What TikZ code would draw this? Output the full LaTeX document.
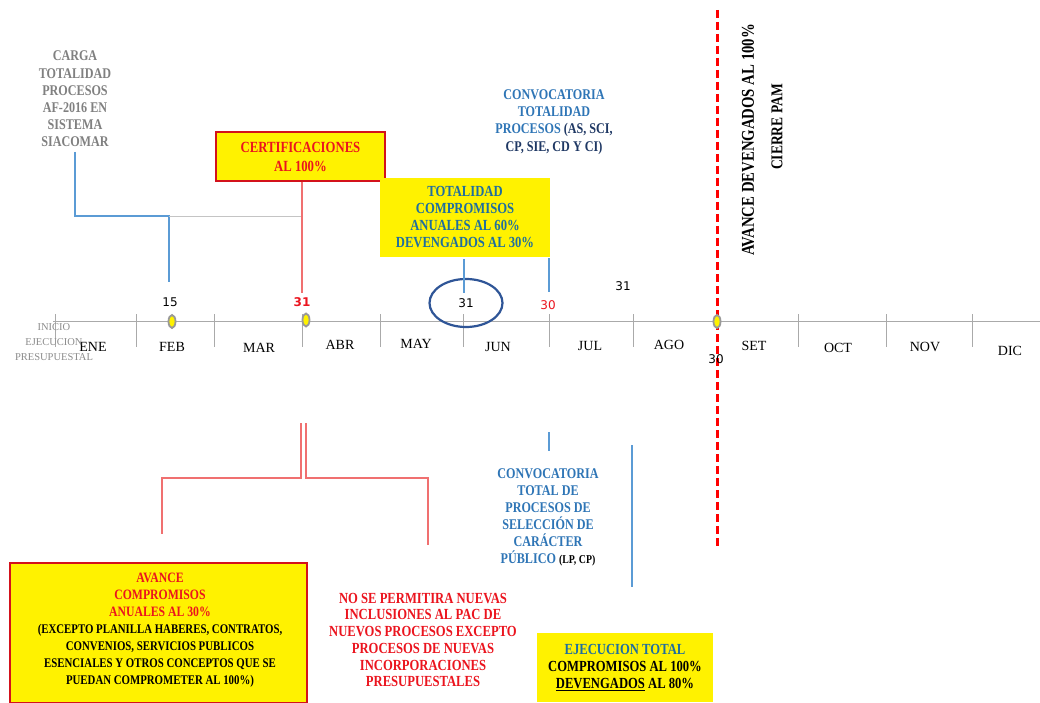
\documentclass[tikz,border=0pt]{standalone}
\usepackage{fontspec}
\setmainfont{Liberation Serif}
\newfontfamily\cond{Liberation Serif}[FakeStretch=0.82]
\newfontfamily\numfont{DejaVu Sans}
\usetikzlibrary{shapes.geometric}
\definecolor{lblue}{RGB}{91,155,213}
\definecolor{tblue}{RGB}{46,117,182}
\definecolor{tealb}{RGB}{30,110,160}
\definecolor{navy}{RGB}{31,56,100}
\definecolor{lred}{RGB}{240,112,112}
\definecolor{rtext}{RGB}{235,20,30}
\definecolor{axisgray}{RGB}{170,170,170}
\definecolor{txtgray}{RGB}{128,128,128}
\definecolor{inigray}{RGB}{140,140,140}
\definecolor{ringblue}{RGB}{47,85,151}
\begin{document}
\begin{tikzpicture}[x=1pt,y=-1pt,
  lbl/.style={font=\cond\bfseries\fontsize{15.4}{17}\selectfont, align=center, inner sep=0pt},
  month/.style={font=\fontsize{14}{16}\selectfont, inner sep=0pt},
  num/.style={font=\numfont\fontsize{12}{14}\selectfont, inner sep=0pt},
  tickline/.style={axisgray, line width=0.8pt},
  bluelink/.style={lblue, line width=1.2pt},
  redlink/.style={lred, line width=1.3pt},
  marker/.style={ellipse, fill=yellow, draw=gray!80, line width=1.8pt, minimum width=7pt, minimum height=13pt, inner sep=0pt},
  ybox/.style={fill=yellow, inner sep=0pt, align=center},
]
\useasboundingbox (0,0) rectangle (1040,703);
\fill[white] (0,0) rectangle (1040,703);

% axis
\coordinate (axL) at (53,321.5);
\coordinate (axR) at (1040,321.5);
\draw[tickline] (axL) -- (axR);
\foreach \x in {55,136,214,302,380,463,549,633,798,886,972}
  \draw[tickline] (\x,314) -- (\x,347);

% months
\node[month] (ene) at (93,347) {ENE};
\node[month] (feb) at (172,347) {FEB};
\node[month] (mar) at (259,348) {MAR};
\node[month] (abr) at (340,345) {ABR};
\node[month] (may) at (416,344) {MAY};
\node[month] (jun) at (498,347) {JUN};
\node[month] (jul) at (590,346) {JUL};
\node[month] (ago) at (669,345) {AGO};
\node[month] (set) at (754,346) {SET};
\node[month] (oct) at (838,348) {OCT};
\node[month] (nov) at (925,347) {NOV};
\node[month] (dic) at (1010,351) {DIC};

\node[font=\fontsize{10.5}{15}\selectfont, text=inigray, align=center, inner sep=0pt] (inicio) at (54,342) {INICIO\\EJECUCION\\PRESUPUESTAL};

% dashed red line
\coordinate (dashTop) at (717,10);
\coordinate (dashBot) at (717,548);
\draw[red, line width=3pt, dash pattern=on 8pt off 4pt] (dashTop) -- (dashBot);

% markers
\node[marker] (m1) at (172,321.5) {};
\node[marker] (m2) at (306,320) {};
\node[marker] (m3) at (717,321.5) {};

% numbers
\node[num] (n15) at (170,302) {15};
\node[num, text=rtext, font=\numfont\bfseries\fontsize{12}{14}\selectfont] (n31a) at (302,302) {31};
\node[num, ellipse, draw=ringblue, line width=2.2pt, minimum width=73pt, minimum height=48pt] (n31b) at (466,303) {31};
\node[num, text=rtext] (n30a) at (548,305) {30};
\node[num] (n31c) at (623,286) {31};
\node[num] (n30b) at (716,359) {30};

% CARGA
\node[lbl, font=\cond\bfseries\fontsize{14.8}{17.2}\selectfont, text=txtgray] (carga) at (75,99) {CARGA\\TOTALIDAD\\PROCESOS\\AF-2016 EN\\SISTEMA\\SIACOMAR};
\coordinate (cargaFoot) at (75,152);
\coordinate (cargaElbow) at (75,216);
\coordinate (febTop) at (169,282);
\draw[bluelink] (cargaFoot) -- (cargaElbow) -| (febTop);
\coordinate (grayL) at (169,217);
\coordinate (grayR) at (302,217);
\draw[axisgray!70, line width=1pt] (grayL) -- (grayR);

% CERTIFICACIONES
\node[ybox, lbl, font=\cond\bfseries\fontsize{15.5}{19}\selectfont, text=rtext, draw=rtext!90!black, line width=1.3pt, minimum width=169pt, minimum height=49pt] (cert) at (300.5,156.5) {CERTIFICACIONES\\AL 100\%};
\coordinate (cert31) at (302,293);
\draw[redlink] (cert.south -| cert31) -- (cert31);

% TOTALIDAD box
\node[ybox, lbl, text=tealb, minimum width=170pt, minimum height=79pt] (tot) at (465,217.5) {TOTALIDAD\\COMPROMISOS\\ANUALES AL 60\%\\DEVENGADOS AL 30\%};
\coordinate (totFoot) at (464,259);
\coordinate (jun31Top) at (464,293);
\draw[bluelink] (totFoot) -- (jun31Top);
\coordinate (totRight) at (549,258);
\coordinate (jun30Top) at (549,292);
\draw[bluelink] (totRight) -- (jun30Top);

% CONVOCATORIA top
\node[lbl, font=\cond\bfseries\fontsize{14.8}{17.3}\selectfont, text=tblue] (convA) at (554,122) {CONVOCATORIA\\TOTALIDAD\\PROCESOS \textcolor{navy}{(AS, SCI,}\\\textcolor{navy}{CP, SIE, CD Y CI)}};

% rotated labels
\node[lbl, font=\cond\bfseries\fontsize{18}{18}\selectfont, rotate=90] (avdev) at (748,140) {AVANCE DEVENGADOS AL 100\%};
\node[lbl, font=\cond\bfseries\fontsize{16.5}{17}\selectfont, rotate=90] (cierre) at (777,127) {CIERRE PAM};

% bottom red connectors
\coordinate (redTopL) at (301,423);
\coordinate (redMidL) at (301,478);
\coordinate (avFoot) at (162,534);
\draw[redlink] (redTopL) -- (redMidL) -| (avFoot);
\coordinate (redTopR) at (306,423);
\coordinate (redMidR) at (306,478);
\coordinate (noseFoot) at (428,545);
\draw[redlink] (redTopR) -- (redMidR) -| (noseFoot);

% bottom blue connectors
\coordinate (convTop) at (549,432);
\coordinate (convBot) at (549,451);
\draw[bluelink] (convTop) -- (convBot);
\coordinate (julTop) at (632,445);
\coordinate (julBot) at (632,587);
\draw[bluelink] (julTop) -- (julBot);

% CONVOCATORIA bottom
\node[lbl, font=\cond\bfseries\fontsize{14.8}{17}\selectfont, text=tblue] (convB) at (548,517) {CONVOCATORIA\\TOTAL DE\\PROCESOS DE\\SELECCIÓN DE\\CARÁCTER\\PÚBLICO \textcolor{black}{\fontsize{12}{17}\selectfont(LP, CP)}};

% AVANCE box
\node[ybox, draw=rtext!90!black, line width=1.3pt, minimum width=297pt, minimum height=140pt] (avbox) at (158.5,633) {};
\node[lbl, font=\cond\bfseries\fontsize{13.2}{17}\selectfont] (avtext) at (160,630) {\textcolor{rtext}{\fontsize{14.3}{17}\selectfont AVANCE}\\\textcolor{rtext}{\fontsize{14.3}{17}\selectfont COMPROMISOS}\\\textcolor{rtext}{\fontsize{14.3}{17}\selectfont ANUALES AL 30\%}\\(EXCEPTO PLANILLA HABERES, CONTRATOS,\\CONVENIOS, SERVICIOS PUBLICOS\\ESENCIALES Y OTROS CONCEPTOS QUE SE\\PUEDAN COMPROMETER AL 100\%)};

% NO SE PERMITIRA
\node[lbl, font=\cond\bfseries\fontsize{15.4}{16.7}\selectfont, text=rtext] (nose) at (423,640) {NO SE PERMITIRA NUEVAS\\INCLUSIONES AL PAC DE\\NUEVOS PROCESOS EXCEPTO\\PROCESOS DE NUEVAS\\INCORPORACIONES\\PRESUPUESTALES};

% EJECUCION box
\node[ybox, lbl, minimum width=176pt, minimum height=69pt] (ejec) at (625,667.5) {\textcolor{tealb}{EJECUCION TOTAL}\\COMPROMISOS AL 100\%\\\underline{DEVENGADOS} AL 80\%};
\end{tikzpicture}
\end{document}
